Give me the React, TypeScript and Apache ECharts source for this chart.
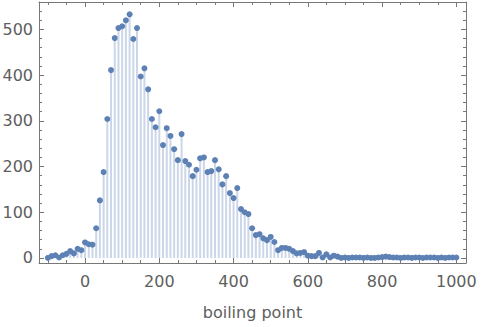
import React, { useEffect, useRef } from "react";
import * as echarts from "echarts";

const binCenters = [
  -100, -90, -80, -70, -60, -50, -40, -30, -20, -10,
  0, 10, 20, 30, 40, 50, 60, 70, 80, 90,
  100, 110, 120, 130, 140, 150, 160, 170, 180, 190,
  200, 210, 220, 230, 240, 250, 260, 270, 280, 290,
  300, 310, 320, 330, 340, 350, 360, 370, 380, 390,
  400, 410, 420, 430, 440, 450, 460, 470, 480, 490,
  500, 510, 520, 530, 540, 550, 560, 570, 580, 590,
  600, 610, 620, 630, 640, 650, 660, 670, 680, 690,
  700, 710, 720, 730, 740, 750, 760, 770, 780, 790,
  800, 810, 820, 830, 840, 850, 860, 870, 880, 890,
  900, 910, 920, 930, 940, 950, 960, 970, 980, 990,
  1000,
];

const counts = [
  0, 4, 6, 1, 6, 9, 15, 10, 20, 17,
  34, 30, 29, 65, 126, 188, 304, 411, 481, 503,
  507, 520, 533, 479, 503, 397, 415, 369, 304, 286,
  321, 247, 284, 267, 238, 214, 271, 212, 204, 179,
  193, 218, 220, 188, 190, 214, 194, 161, 179, 142,
  131, 153, 107, 100, 96, 65, 50, 52, 43, 39,
  46, 35, 17, 22, 22, 20, 15, 10, 11, 13,
  5, 4, 4, 11, 1, 8, 1, 5, 3, 0,
  1, 0, 1, 1, 1, 0, 1, 0, 0, 1,
  2, 3, 2, 1, 1, 0, 1, 1, 0, 1,
  1, 0, 1, 1, 1, 0, 1, 0, 1, 1,
  1,
];

const xTickLabels = [0, 200, 400, 600, 800, 1000];
const xMinorTicks = [-100, -50, 50, 100, 150, 250, 300, 350, 450, 500, 550, 650, 700, 750, 850, 900, 950];
const yTickLabels = [0, 100, 200, 300, 400, 500];
const yMinorTicks = [20, 40, 60, 80, 120, 140, 160, 180, 220, 240, 260, 280, 320, 340, 360, 380, 420, 440, 460, 480, 520, 540];

const X_MIN = -124;
const X_MAX = 1026;
const Y_MIN = -11;
const Y_MAX = 560;

export default function App() {
  const ref = useRef<HTMLDivElement>(null);
  useEffect(() => {
    if (!ref.current) return;
    const chart = echarts.init(ref.current, null, { renderer: "svg" });
    const frame = { color: "#777777", width: 1 };
    const tickStyle = { color: "#777777", width: 1 };
    const labelStyle = { fontFamily: "DejaVu Sans", fontSize: 16, color: "#5e5e5e" };
    const plain = (v: number) => String(v);
    const pts = binCenters.map((x, i) => [x, counts[i]]);

    const xBase = (pos: string, ticks: number[], len: number, showLine: boolean, labels: boolean, extra: any = {}) => ({
      type: "value",
      position: pos,
      min: X_MIN,
      max: X_MAX,
      axisLine: { show: showLine, onZero: false, lineStyle: frame },
      axisTick: { show: true, inside: true, length: len, customValues: ticks, lineStyle: tickStyle },
      axisLabel: labels
        ? { show: true, customValues: xTickLabels, margin: 10, formatter: plain, ...labelStyle }
        : { show: false },
      splitLine: { show: false },
      ...extra,
    });
    const yBase = (pos: string, ticks: number[], len: number, showLine: boolean, labels: boolean) => ({
      type: "value",
      position: pos,
      min: Y_MIN,
      max: Y_MAX,
      axisLine: { show: showLine, onZero: false, lineStyle: frame },
      axisTick: { show: true, inside: true, length: len, customValues: ticks, lineStyle: tickStyle },
      axisLabel: labels
        ? { show: true, customValues: yTickLabels, margin: 6, formatter: plain, ...labelStyle }
        : { show: false },
      splitLine: { show: false },
    });

    chart.setOption({
      animation: false,
      grid: { left: 39, right: 16, top: 2, bottom: 64, containLabel: false, outerBoundsMode: "none" },
      xAxis: [
        xBase("bottom", xTickLabels, 5, true, true, {
          name: "boiling point",
          nameLocation: "middle",
          nameGap: 41,
          nameTextStyle: { fontFamily: "DejaVu Sans", fontSize: 16, color: "#5e5e5e", verticalAlign: "top" },
        }),
        xBase("bottom", xMinorTicks, 3, false, false),
        xBase("top", xTickLabels, 5, true, false),
        xBase("top", xMinorTicks, 3, false, false),
      ],
      yAxis: [
        yBase("left", yTickLabels, 5, true, true),
        yBase("left", yMinorTicks, 3, false, false),
        yBase("right", yTickLabels, 5, true, false),
        yBase("right", yMinorTicks, 3, false, false),
      ],
      series: [
        {
          type: "bar",
          xAxisIndex: 0,
          yAxisIndex: 0,
          data: pts,
          barWidth: 2,
          itemStyle: { color: "rgb(203,214,232)" },
          silent: true,
        },
        {
          type: "scatter",
          xAxisIndex: 0,
          yAxisIndex: 0,
          data: pts,
          symbol: "circle",
          symbolSize: 6,
          itemStyle: { color: "#5E81B5", opacity: 1 },
        },
      ],
    });
    return () => chart.dispose();
  }, []);
  return <div ref={ref} style={{ width: 482, height: 327, position: "absolute", left: 0, top: 0 }} />;
}
